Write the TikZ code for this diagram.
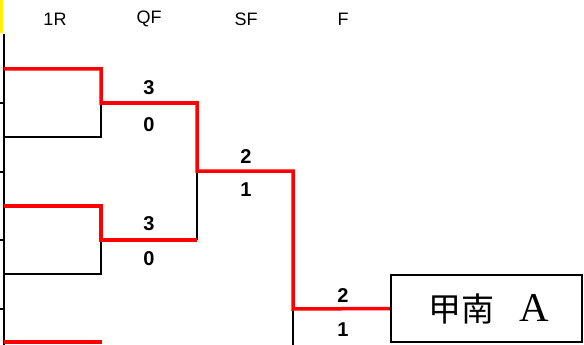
\documentclass[tikz,border=0pt]{standalone}
\usepackage{fontspec}
\setmainfont{Liberation Sans}
\newfontfamily\cjkfont{Noto Sans CJK JP}
\newfontfamily\serifA{Liberation Serif}
\begin{document}
\begin{tikzpicture}[x=1pt,y=-1pt,
  win/.style={draw=red, line width=3.5pt, line join=miter},
  lose/.style={draw=black, line width=2pt},
  score/.style={font=\bfseries\fontsize{20}{20}\selectfont, inner sep=0pt},
  head/.style={font=\fontsize{18}{18}\selectfont, inner sep=0pt},
  teambox/.style={draw=black, line width=2pt, minimum width=191pt, minimum height=67pt, inner sep=0pt}]
\useasboundingbox (0,0) rectangle (584,345);
\fill[yellow] (0,0) rectangle (3,33);
% headers
\node[head] (h1) at (55,19) {1R};
\node[head] (h2) at (149,19) {QF};
\node[head] (h3) at (246,19) {SF};
\node[head] (h4) at (343,19) {F};
% champion box
\node[teambox] (champ) at (486.5,308.5) {\hspace{4pt}\cjkfont\fontsize{33}{33}\selectfont 甲南\hspace{0.75em}{\serifA\fontsize{41}{41}\selectfont A}};
% coordinates
\coordinate (ltop) at (4,34);
\coordinate (lbot) at (4,345);
\coordinate (a1) at (4,69);
\coordinate (a2) at (4,137);
\coordinate (a3) at (4,206);
\coordinate (a4) at (4,274);
\coordinate (a5) at (4,342);
\coordinate (q1) at (101,103);
\coordinate (q2) at (101,240);
\coordinate (s1) at (197,171);
\coordinate (f1) at (293,309);
\coordinate (fb) at (293,345);
\coordinate (e5) at (102,342);
% black lines
\draw[lose] (ltop) -- (lbot);
\foreach \yy in {103,172,240,309} \draw[lose] (0,\yy) -- (4,\yy);
\draw[lose] (a2) -| (q1);
\draw[lose] (a4) -| (q2);
\draw[lose] (q2 -| s1) -- (s1);
\draw[lose] (f1) -- (fb);
% red lines
\draw[win] (a1) -| (q1) -- (q1 -| s1) -- (s1) -- (s1 -| f1) -- (f1) -- (champ.west);
\draw[win] (a3) -| (q2) -- (q2 -| s1);
\draw[win] (a5) -- (e5);
% scores
\node[score] (sc1) at (149,88) {3};
\node[score] (sc2) at (149,125) {0};
\node[score] (sc3) at (149,224) {3};
\node[score] (sc4) at (149,259) {0};
\node[score] (sc5) at (246,157) {2};
\node[score] (sc6) at (246,190) {1};
\node[score] (sc7) at (343,296) {2};
\node[score] (sc8) at (343,330) {1};
\end{tikzpicture}
\end{document}
